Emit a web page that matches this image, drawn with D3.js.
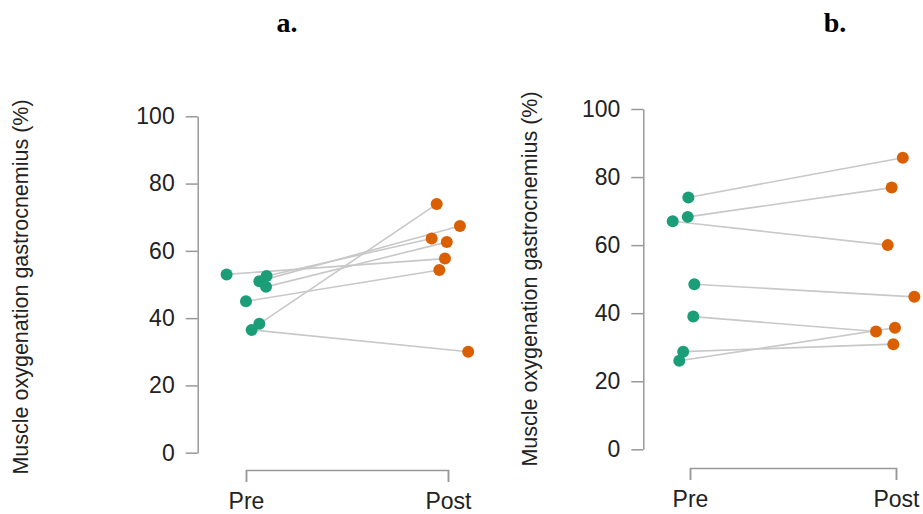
<!DOCTYPE html>
<html>
<head>
<meta charset="utf-8">
<script src="https://cdn.jsdelivr.net/npm/d3@7"></script>
<style>
  body { margin: 0; background: #fff; }
  svg { display: block; }
  .axis text { font-family: "Liberation Sans", Arial, sans-serif; fill: #222; }
  .axis path, .axis line { stroke: #999; stroke-width: 1.5; }
</style>
</head>
<body>
<div id="chart"></div>
<script>
// time points
var phases = ["Pre", "Post"];
var yTicks = [0, 20, 40, 60, 80, 100];
var yTitle = "Muscle oxygenation gastrocnemius (%)";

// panel a: paired values (pre -> post), jitter offsets (in category units)
var aPre  = [53.0, 52.5, 51.0, 49.3, 45.0, 38.3, 36.5];
var aPost = [57.7, 63.7, 67.4, 62.6, 54.3, 73.9, 30.0];
var aPreJit  = [-0.096, 0.102, 0.066, 0.099, 0.0, 0.066, 0.028];
var aPostJit = [-0.015, -0.081, 0.059, -0.006, -0.043, -0.056, 0.100];

// panel b
var bPre  = [74.0, 68.3, 67.0, 48.5, 39.0, 28.7, 26.0];
var bPost = [85.7, 76.9, 60.0, 44.8, 34.6, 30.9, 35.7];
var bPreJit  = [-0.008, -0.011, -0.084, 0.021, 0.016, -0.033, -0.052];
var bPostJit = [0.033, -0.021, -0.040, 0.089, -0.097, -0.013, -0.005];

var preColor = "#1b9e77", postColor = "#d95f02";

var svg = d3.select("#chart").append("svg")
    .attr("width", 923)
    .attr("height", 514);

var panels = [
  {label: "a.", labelX: 287, pre: aPre, post: aPost, preJit: aPreJit, postJit: aPostJit,
   axisX: 197.7, yRange: [452.7, 116.3], xRange: [246, 448], bracketY: 470, titleX: 28, titleY: 287},
  {label: "b.", labelX: 835, pre: bPre, post: bPost, preJit: bPreJit, postJit: bPostJit,
   axisX: 643.3, yRange: [449.3, 109], xRange: [690, 896], bracketY: 468, titleX: 537, titleY: 279}
];

panels.forEach(function(p) {
  var g = svg.append("g");

  var y = d3.scaleLinear().domain([0, 100]).range(p.yRange);
  var x = d3.scaleLinear().domain([0, 1]).range(p.xRange);

  // panel letter
  g.append("text")
    .attr("x", p.labelX)
    .attr("y", 32)
    .attr("text-anchor", "middle")
    .style("font-family", "'Liberation Serif', 'Times New Roman', serif")
    .style("font-weight", "bold")
    .style("font-size", "28px")
    .text(p.label);

  // y axis
  var yAxis = g.append("g")
    .attr("class", "axis")
    .attr("transform", "translate(" + p.axisX + ",0)")
    .call(d3.axisLeft(y).tickValues(yTicks).tickSize(12).tickSizeOuter(0).tickPadding(11));
  yAxis.selectAll("text").style("font-size", "23px");

  // x axis bracket
  var xAxis = d3.axisBottom(d3.scalePoint().domain(phases).range(p.xRange))
    .tickSize(12).tickSizeOuter(12).tickPadding(11);
  var xg = g.append("g")
    .attr("class", "axis")
    .attr("transform", "translate(0," + p.bracketY + ")")
    .call(xAxis);
  xg.selectAll("text").style("font-size", "23px");

  // y title
  g.append("text")
    .attr("transform", "translate(" + p.titleX + "," + p.titleY + ") rotate(-90)")
    .attr("text-anchor", "middle")
    .style("font-family", "'Liberation Sans', Arial, sans-serif")
    .style("font-size", "21.5px")
    .style("fill", "#222")
    .text(yTitle);

  var pairs = p.pre.map(function(v, i) {
    return {pre: v, post: p.post[i], pj: p.preJit[i], qj: p.postJit[i]};
  });

  // connecting lines
  g.selectAll(".pair")
    .data(pairs)
    .enter()
    .append("line")
      .attr("x1", function(d) { return x(0 + d.pj); })
      .attr("y1", function(d) { return y(d.pre); })
      .attr("x2", function(d) { return x(1 + d.qj); })
      .attr("y2", function(d) { return y(d.post); })
      .style("stroke", "#c8c8c8")
      .style("stroke-width", 1.6);

  // dots
  g.selectAll(".pre")
    .data(pairs)
    .enter()
    .append("circle")
      .attr("cx", function(d) { return x(0 + d.pj); })
      .attr("cy", function(d) { return y(d.pre); })
      .attr("r", 6)
      .style("fill", preColor);

  g.selectAll(".post")
    .data(pairs)
    .enter()
    .append("circle")
      .attr("cx", function(d) { return x(1 + d.qj); })
      .attr("cy", function(d) { return y(d.post); })
      .attr("r", 6)
      .style("fill", postColor);
});
</script>
</body>
</html>
